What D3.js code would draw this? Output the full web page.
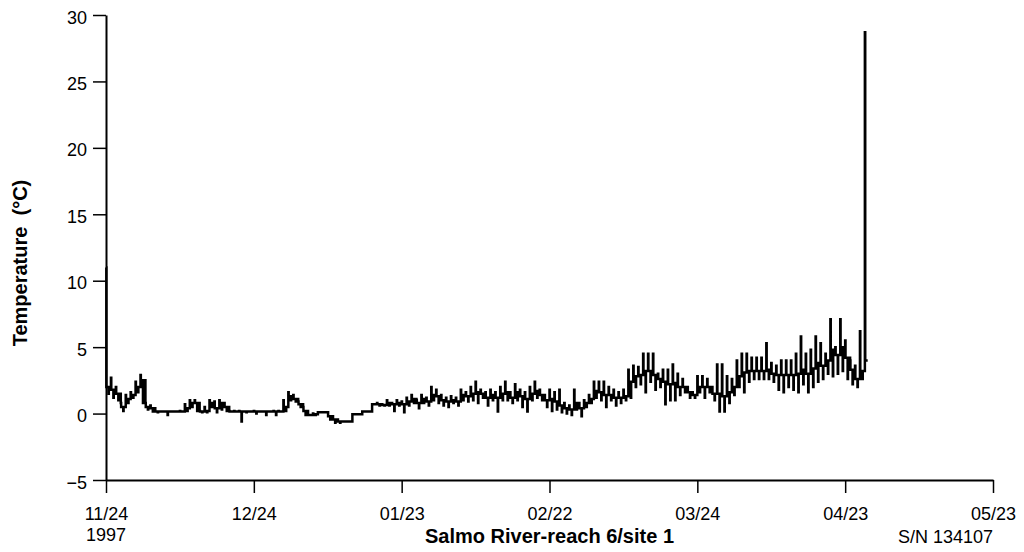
<!DOCTYPE html>
<html>
<head>
<meta charset="utf-8">
<script src="https://cdn.jsdelivr.net/npm/d3@7"></script>
<style>
  body { margin: 0; background: #fff; }
  text { font-family: "Liberation Sans", Arial, sans-serif; fill: #000; }
</style>
</head>
<body>
<div id="chart"></div>
<script>
// daily readings (°C), one entry per day starting 11/24/1997:
// high spike, usual level, low dip
var startDay = "1997-11-24"
var dayHi = [11, 2.7, 2.0, 0.8, 1.4, 1.6, 2.4, 2.9, 0.8, 0.6,
  0.15, 0.15, 0.15, 0.15, 0.15, 0.2, 0.7, 1.0, 1.0, 0.2,
  0.5, 1.0, 0.9, 1.0, 0.8, 0.2, 0.2, 0.2, 0.15, 0.15,
  0.2, 0.15, 0.15, 0.15, 0.2, 0.2, 1.0, 1.6, 1.4, 0.9,
  0.5, -0.1, 0.0, 0.1, 0.1, 0.1, -0.2, -0.45, -0.6, -0.6,
  -0.05, -0.05, 0.15, 0.15, 0.7, 0.8, 0.7, 1.0, 0.8, 1.0,
  0.9, 1.2, 1.4, 1.0, 1.4, 1.2, 2.0, 1.8, 1.4, 1.2,
  1.3, 1.2, 1.8, 1.6, 2.0, 2.4, 1.8, 1.6, 1.8, 1.6,
  2.0, 2.4, 1.6, 2.2, 1.8, 1.6, 2.0, 2.4, 1.8, 1.4,
  1.8, 1.6, 1.8, 0.8, 0.6, 1.8, 0.8, 1.0, 1.4, 2.4,
  2.4, 2.4, 2.0, 1.8, 1.6, 1.8, 3.3, 3.6, 3.5, 4.5,
  4.5, 4.5, 3.0, 3.3, 3.3, 3.7, 3.0, 2.6, 2.0, 1.6,
  2.8, 2.8, 2.6, 2.0, 3.7, 3.7, 2.8, 2.6, 4.0, 4.5,
  4.5, 4.2, 4.2, 4.2, 5.3, 3.8, 3.6, 4.0, 4.0, 4.0,
  4.5, 5.8, 4.5, 4.8, 5.8, 5.3, 4.5, 7.1, 5.0, 7.1,
  5.5, 4.0, 3.6, 6.2, 28.7]
var dayMid = [2.0, 1.8, 1.5, 0.5, 1.1, 1.4, 2.0, 2.5, 0.5, 0.4,
  0.15, 0.15, 0.15, 0.15, 0.15, 0.15, 0.4, 0.8, 0.8, 0.15,
  0.2, 0.8, 0.4, 0.8, 0.5, 0.15, 0.15, 0.15, 0.15, 0.15,
  0.15, 0.15, 0.15, 0.15, 0.15, 0.15, 0.5, 1.3, 1.1, 0.7,
  0.2, -0.1, -0.05, 0.1, 0.1, -0.2, -0.45, -0.6, -0.6, -0.6,
  -0.05, -0.05, 0.15, 0.15, 0.7, 0.7, 0.65, 0.8, 0.7, 0.8,
  0.7, 0.9, 1.1, 0.8, 1.1, 0.9, 1.4, 1.3, 1.0, 0.9,
  1.0, 0.9, 1.4, 1.3, 1.5, 1.6, 1.5, 1.2, 1.4, 1.2,
  1.5, 1.6, 1.2, 1.6, 1.3, 1.1, 1.5, 1.7, 1.4, 1.0,
  1.1, 0.9, 0.6, 0.4, 0.3, 0.8, 0.4, 0.8, 1.1, 1.7,
  1.6, 1.4, 1.4, 1.2, 1.2, 1.3, 2.4, 2.8, 2.9, 3.2,
  3.2, 2.9, 2.6, 2.4, 2.2, 2.3, 2.0, 2.0, 1.6, 1.4,
  2.0, 2.0, 2.0, 1.5, 1.5, 1.3, 1.6, 2.0, 2.8, 3.1,
  3.2, 3.2, 3.2, 3.2, 3.3, 3.0, 2.9, 2.9, 2.9, 2.9,
  3.0, 3.3, 3.0, 3.4, 3.8, 3.6, 4.0, 4.8, 4.4, 5.0,
  4.2, 3.3, 2.6, 3.2, 4.0]
var dayLo = [1.5, 1.2, 1.0, 0.2, 0.8, 1.2, 1.6, 0.8, 0.3, 0.15,
  0.1, 0.15, -0.1, 0.15, 0.15, 0.15, 0.2, 0.5, 0.2, 0.1,
  0.1, 0.5, 0.1, 0.3, 0.2, 0.15, 0.15, -0.6, 0.1, 0.15,
  0.0, 0.15, -0.1, 0.15, -0.1, 0.15, 0.2, 1.0, 0.9, 0.5,
  -0.1, -0.1, -0.1, 0.1, 0.1, -0.45, -0.7, -0.7, -0.6, -0.6,
  -0.05, -0.05, 0.15, 0.15, 0.7, 0.6, 0.6, 0.6, 0.2, 0.6,
  0.1, 0.6, 0.8, 0.4, 0.8, 0.6, 1.0, 0.8, 0.6, 0.5,
  0.8, 0.6, 1.0, 0.9, 1.0, 0.8, 1.2, 0.6, 1.0, 0.15,
  1.0, 1.0, 0.8, 1.0, 0.5, 0.15, 1.0, 1.2, 1.0, 0.5,
  0.2, 0.3, 0.1, 0.0, -0.1, 0.3, -0.2, 0.5, 0.8, 1.2,
  1.0, 0.5, 1.0, 0.6, 0.8, 1.0, 1.2, 2.0, 2.2, 1.6,
  2.4, 1.8, 2.0, 0.7, 1.0, 1.0, 1.4, 1.6, 1.2, 1.2,
  1.6, 1.2, 1.6, 1.0, 0.15, 0.15, 0.8, 1.4, 2.0, 1.6,
  2.4, 2.6, 2.6, 2.6, 2.6, 2.4, 1.8, 1.6, 2.0, 1.8,
  1.6, 2.2, 1.6, 2.0, 2.4, 2.6, 3.0, 2.8, 3.0, 3.2,
  2.6, 2.2, 2.0, 2.6, 4.0]

var xTickDates = ["1997-11-24", "1997-12-24", "1998-01-23", "1998-02-22", "1998-03-24", "1998-04-23", "1998-05-23"]
var yTicks = [-5, 0, 5, 10, 15, 20, 25, 30]
var yLabel = "Temperature  (\u00b0C)"
var xLabel = "Salmo River-reach 6/site 1"
var firstYear = "1997"
var serial = "S/N 134107"

var width = 1024, height = 552
var plotL = 106, plotR = 993, plotT = 15, plotB = 480

var parse = d3.utcParse("%Y-%m-%d")
var t0 = parse(startDay)

var svg = d3.select("#chart").append("svg")
    .attr("width", width)
    .attr("height", height)

var x = d3.scaleUtc()
    .domain([parse(xTickDates[0]), parse(xTickDates[xTickDates.length - 1])])
    .range([plotL, plotR])

var y = d3.scaleLinear()
    .domain([-5, 30])
    .range([plotB, plotT])

// each day: short high spike, usual level, short low dip, usual level
var points = []
dayHi.forEach(function(v, i) {
  var m = i * 24 * 60
  points.push([d3.utcMinute.offset(t0, m), v])
  points.push([d3.utcMinute.offset(t0, m + 100), dayMid[i]])
  points.push([d3.utcMinute.offset(t0, m + 720), dayLo[i]])
  points.push([d3.utcMinute.offset(t0, m + 820), dayMid[i]])
})

var line = d3.line()
    .x(d => x(d[0]))
    .y(d => y(d[1]))
    .curve(d3.curveStepAfter)

svg.append("path")
    .datum(points)
    .attr("fill", "none")
    .attr("stroke", "#000")
    .attr("stroke-width", 2.5)
    .attr("d", line)

var fmt = d3.utcFormat("%m/%d")

var xAxis = svg.append("g")
    .attr("transform", `translate(0,${plotB})`)
    .call(d3.axisBottom(x)
        .tickValues(xTickDates.map(parse))
        .tickFormat(fmt)
        .tickSize(13)
        .tickSizeOuter(0)
        .tickPadding(14))

var yAxis = svg.append("g")
    .attr("transform", `translate(${plotL},0)`)
    .call(d3.axisLeft(y)
        .tickValues(yTicks)
        .tickSize(13)
        .tickSizeOuter(0)
        .tickPadding(6))

svg.selectAll(".domain").attr("stroke", "#000").attr("stroke-width", 2)
svg.selectAll(".tick line").attr("stroke", "#000").attr("stroke-width", 1.5)
svg.selectAll(".tick text")
    .style("font-family", "'Liberation Sans', Arial, sans-serif")
    .style("font-size", "18px")
    .attr("fill", "#000")
yAxis.selectAll(".tick text").attr("dy", "0.45em")

svg.append("text")
    .attr("x", plotL)
    .attr("y", 541)
    .attr("text-anchor", "middle")
    .style("font-size", "18px")
    .text(firstYear)

svg.append("text")
    .attr("x", plotR)
    .attr("y", 543)
    .attr("text-anchor", "end")
    .style("font-size", "18px")
    .text(serial)

svg.append("text")
    .attr("x", (plotL + plotR) / 2)
    .attr("y", 543)
    .attr("text-anchor", "middle")
    .style("font-size", "20px")
    .style("font-weight", "bold")
    .text(xLabel)

svg.append("text")
    .attr("transform", "translate(27,263) rotate(-90)")
    .attr("text-anchor", "middle")
    .style("font-size", "20px")
    .style("font-weight", "bold")
    .style("white-space", "pre")
    .text(yLabel)
</script>
</body>
</html>
